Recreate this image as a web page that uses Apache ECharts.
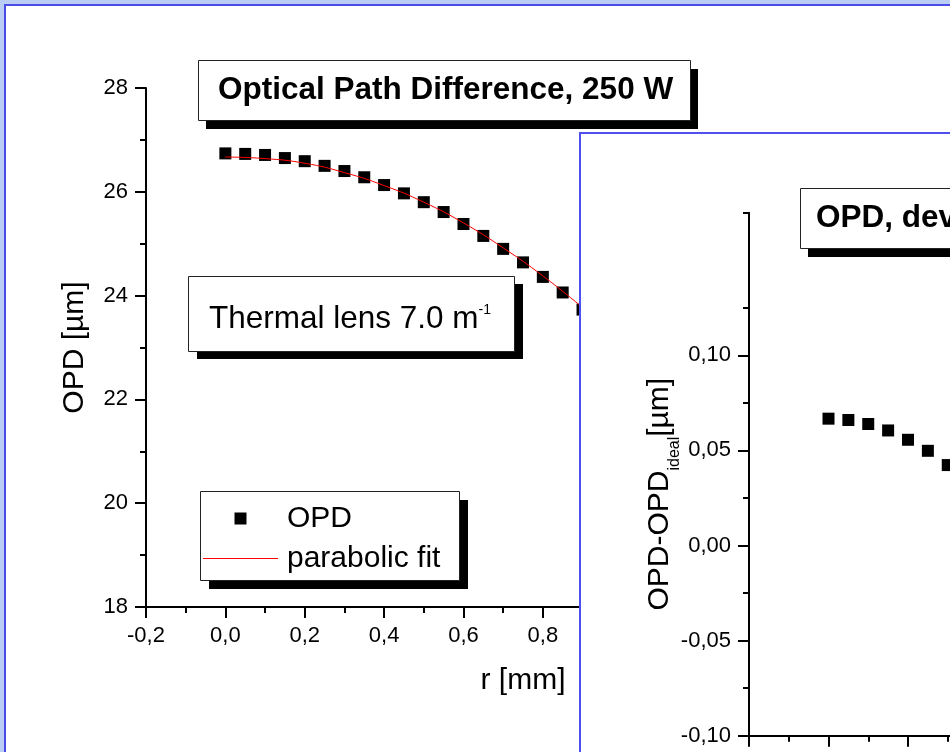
<!DOCTYPE html>
<html><head><meta charset="utf-8">
<script src="https://cdn.jsdelivr.net/npm/echarts@6/dist/echarts.min.js"></script>
<style>html,body{margin:0;padding:0;background:#fff}#c{width:950px;height:752px}</style>
</head><body><div id="c"></div>
<script>
// ---- data ----
const rMain   = [0,0.05,0.10,0.15,0.20,0.25,0.30,0.35,0.40,0.45,0.50,0.55,0.60,0.65,0.70,0.75,0.80,0.85,0.90];
const opdMain = [26.74,26.73,26.71,26.65,26.59,26.50,26.40,26.28,26.13,25.97,25.80,25.61,25.38,25.15,24.90,24.64,24.36,24.06,23.73];
const rFit    = [0,0.1,0.2,0.3,0.4,0.5,0.6,0.7,0.8,0.9];
const opdFit  = [26.67,26.64,26.55,26.37,26.12,25.80,25.40,24.92,24.38,23.77];
const rDev    = [0,0.05,0.10,0.15,0.20,0.25,0.30];
const opdDev  = [0.0667,0.0660,0.0639,0.0605,0.0556,0.0498,0.0423];
const devMajorTicks = [-0.10,-0.05,0.00,0.05,0.10,0.15];
const devMinorTicks = [-0.075,-0.025,0.025,0.075,0.125,0.175];

const FONT = '"Liberation Sans", Arial, Helvetica, sans-serif';
const comma = d => v => Number(v).toFixed(d).replace('.', ',');
const lineBlack = {color:'#000', width:2};
const labelStyle = {color:'#000', fontSize:22, fontFamily:FONT, margin:18};
const nameStyle = {color:'#000', fontSize:30, fontFamily:FONT};

// framed text box with hard black shadow (drawn with graphic rects)
function box(x, y, w, h, dx, dy, z) {
  return [
    {type:'rect', z:z, shape:{x:x+dx, y:y+dy, width:w, height:h}, style:{fill:'#000'}},
    {type:'rect', z:z+0.5, shape:{x:x+0.5, y:y+0.5, width:w, height:h}, style:{fill:'#fff', stroke:'#222', lineWidth:1}}
  ];
}

const chart = echarts.init(document.getElementById('c'));
const option = {
  backgroundColor:'#B9CDF5',
  animation:false,
  title:[
    {text:'Optical Path Difference, 250 W', left:218, top:74, padding:0, z:6,
     textStyle:{fontSize:31.5, fontWeight:'bold', fontFamily:FONT, color:'#000', lineHeight:32}},
    {text:'{a|Thermal lens 7.0 m}{s|-1}', left:209, top:303, padding:0, z:6,
     textStyle:{fontWeight:'normal', rich:{
       a:{fontSize:31.5, lineHeight:32, fontWeight:'normal', fontFamily:FONT, color:'#000'},
       s:{fontSize:14, lineHeight:10, fontWeight:'normal', verticalAlign:'top', fontFamily:FONT, color:'#000'}}}},
    {text:'OPD, deviation from parabola', left:816, top:202, padding:0, z:9,
     textStyle:{fontSize:31.5, fontWeight:'bold', fontFamily:FONT, color:'#000', lineHeight:32}}
  ],
  legend:{
    orient:'vertical', left:203, top:503.5, padding:0, itemGap:10, itemWidth:75, itemHeight:12,
    selectedMode:false, symbolKeepAspect:true, z:6,
    textStyle:{fontSize:30, fontFamily:FONT, color:'#000', padding:[0,0,0,4]},
    data:[{name:'OPD', icon:'path://M0 0H10V10H0Z'},
          {name:'parabolic fit', icon:'path://M0 0H75V1H0Z'}]
  },
  grid:[
    {left:146, top:88, width:754, height:519, outerBoundsMode:'none', containLabel:false},
    {left:749, top:212.7, width:636, height:523, outerBoundsMode:'none', containLabel:false}
  ],
  xAxis:[
    {gridIndex:0, type:'value', position:'bottom', min:-0.2, max:1.7, interval:0.2,
     name:'r [mm]', nameLocation:'middle', nameGap:59, nameMoveOverlap:false, nameTextStyle:nameStyle,
     axisLine:{onZero:false, lineStyle:lineBlack}, axisTick:{length:11, lineStyle:lineBlack},
     minorTick:{show:true, splitNumber:2, length:6, lineStyle:lineBlack},
     splitLine:{show:false}, axisLabel:Object.assign({formatter:comma(1)}, labelStyle)},
    {gridIndex:1, type:'value', position:'bottom', min:-0.2, max:1.4, interval:0.2, z:10,
     axisLine:{onZero:false, lineStyle:lineBlack}, axisTick:{length:11, lineStyle:lineBlack},
     minorTick:{show:true, splitNumber:2, length:6, lineStyle:lineBlack},
     splitLine:{show:false}, axisLabel:{show:false}}
  ],
  yAxis:[
    {gridIndex:0, type:'value', position:'left', min:18, max:28, interval:2,
     name:'OPD [µm]', nameLocation:'middle', nameGap:56, nameMoveOverlap:false, nameTextStyle:nameStyle,
     axisLine:{onZero:false, lineStyle:lineBlack}, axisTick:{length:11, lineStyle:lineBlack},
     minorTick:{show:true, splitNumber:2, length:6, lineStyle:lineBlack},
     splitLine:{show:false}, axisLabel:labelStyle},
    {gridIndex:1, type:'value', position:'left', min:-0.1, max:0.175, interval:0.05, z:10,
     name:'{a|OPD-OPD}{b|ideal}{a|[µm]}', nameLocation:'middle', nameGap:74, nameMoveOverlap:false,
     nameTextStyle:{padding:[0,40,0,0], rich:{
       a:{fontSize:30, lineHeight:30, verticalAlign:'top', fontFamily:FONT, color:'#000'},
       b:{fontSize:16, lineHeight:16, padding:[22,0,0,0], verticalAlign:'top', fontFamily:FONT, color:'#000'}}},
     axisLine:{onZero:false, lineStyle:lineBlack},
     axisTick:{length:11, lineStyle:lineBlack, customValues:devMajorTicks},
     minorTick:{show:false}, splitLine:{show:false},
     axisLabel:Object.assign({formatter:comma(2), customValues:devMajorTicks, showMaxLabel:false}, labelStyle)},
    {gridIndex:1, type:'value', position:'left', min:-0.1, max:0.175, interval:0.025, z:10,
     axisLine:{show:false, onZero:false}, axisTick:{length:6, lineStyle:lineBlack, customValues:devMinorTicks},
     minorTick:{show:false}, splitLine:{show:false}, axisLabel:{show:false}}
  ],
  series:[
    {type:'scatter', name:'OPD', xAxisIndex:0, yAxisIndex:0, symbol:'rect', symbolSize:12,
     itemStyle:{color:'#000', opacity:1}, data:rMain.map((r,i)=>[r,opdMain[i]])},
    {type:'line', name:'parabolic fit', xAxisIndex:0, yAxisIndex:0, smooth:true, symbol:'none',
     lineStyle:{color:'#ff0000', width:1}, itemStyle:{color:'#ff0000'},
     data:rFit.map((r,i)=>[r,opdFit[i]])},
    {type:'scatter', name:'OPD deviation', xAxisIndex:1, yAxisIndex:1, symbol:'rect', symbolSize:12, z:10,
     itemStyle:{color:'#000', opacity:1}, data:rDev.map((r,i)=>[r,opdDev[i]])}
  ],
  graphic:[
    {type:'rect', z:-10, shape:{x:5, y:5, width:1000, height:800}, style:{fill:'#fff', stroke:'#4B4BE6', lineWidth:2}},
    {type:'rect', z:5, shape:{x:580, y:133, width:500, height:700}, style:{fill:'#fff', stroke:'#5050F0', lineWidth:2}}
  ].concat(
    box(198, 60, 492, 60, 8, 9, 3),
    box(188, 276, 326, 75, 9, 8, 3),
    box(200, 491, 259, 89, 9, 9, 3),
    box(800, 188, 520, 60, 8, 9, 7)
  )
};
chart.setOption(option);
</script></body></html>
